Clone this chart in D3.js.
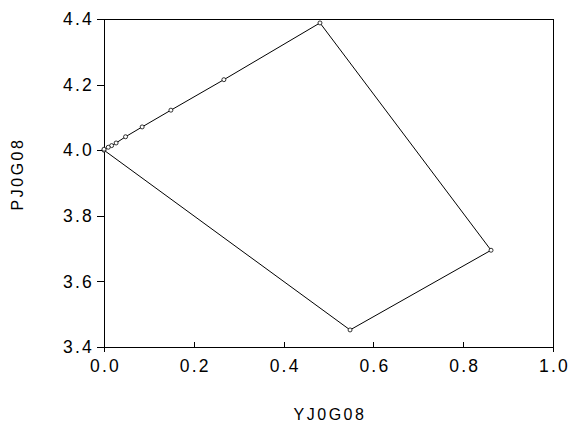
<!DOCTYPE html>
<html>
<head>
<meta charset="utf-8">
<script src="https://cdn.jsdelivr.net/npm/d3@7"></script>
<style>
html,body{margin:0;padding:0;background:#fff;}
svg{display:block;}
text{font-family:"Liberation Sans",Arial,sans-serif;fill:#000;}
</style>
</head>
<body>
<svg id="chart" width="576" height="430"></svg>
<script>
// Data (path order)
const xValues = [0.0, 0.548, 0.862, 0.481, 0.267, 0.149, 0.085, 0.048, 0.027, 0.017, 0.0095, 0.0];
const yValues = [4.0, 3.452, 3.695, 4.388, 4.215, 4.122, 4.071, 4.041, 4.022, 4.014, 4.009, 4.003];
const xTicks = [0.0, 0.2, 0.4, 0.6, 0.8, 1.0];
const yTicks = [3.4, 3.6, 3.8, 4.0, 4.2, 4.4];
const xTitle = "YJ0G08";
const yTitle = "PJ0G08";

(function () {
const svg = d3.select("#chart");
const mL = 104, mR = 553, mT = 19, mB = 347;
const x = d3.scaleLinear().domain([0, 1]).range([mL, mR]);
const y = d3.scaleLinear().domain([3.4, 4.4]).range([mB, mT]);

// Frame
svg.append("rect").attr("x", mL).attr("y", mT).attr("width", mR - mL).attr("height", mB - mT)
  .attr("fill", "none").attr("stroke", "#000").attr("stroke-width", 1).attr("shape-rendering", "crispEdges");

// Y axis (outer ticks, left)
const yAxis = d3.axisLeft(y).tickValues(yTicks).tickFormat(d3.format(".1f")).tickSize(7).tickPadding(3);
const gy = svg.append("g").attr("transform", `translate(${mL},0)`).call(yAxis);
gy.select(".domain").remove();
gy.selectAll("line").attr("stroke", "#000").attr("shape-rendering", "crispEdges");
gy.selectAll("text").attr("font-size", 17.5).attr("letter-spacing", 2.2).attr("font-family", "Liberation Sans, Arial, sans-serif");

// X axis (inner ticks)
const xAxis = d3.axisBottom(x).tickValues(xTicks).tickFormat(d3.format(".1f")).tickSize(-5).tickPadding(13);
const gx = svg.append("g").attr("transform", `translate(0,${mB})`).call(xAxis);
gx.select(".domain").remove();
gx.selectAll("line").attr("stroke", "#000").attr("shape-rendering", "crispEdges");
gx.selectAll("text").attr("font-size", 17.5).attr("letter-spacing", 2.2).attr("dx", 1).attr("font-family", "Liberation Sans, Arial, sans-serif");
gx.selectAll(".tick").filter(d => d === 0 || d === 1).append("line")
  .attr("y1", 0).attr("y2", 5).attr("stroke", "#000").attr("shape-rendering", "crispEdges");

// Titles
svg.append("text").attr("x", 330).attr("y", 420).attr("text-anchor", "middle")
  .attr("font-size", 16).attr("letter-spacing", 2.5).text(xTitle);
svg.append("text").attr("transform", `translate(23,174) rotate(-90)`).attr("text-anchor", "middle")
  .attr("font-size", 16).attr("letter-spacing", 2.5).text(yTitle);

// Path
const pts = xValues.map((v, i) => [v, yValues[i]]);
svg.append("path").datum(pts)
  .attr("d", d3.line().x(d => x(d[0])).y(d => y(d[1])))
  .attr("fill", "none").attr("stroke", "#000").attr("stroke-width", 1);

svg.selectAll("circle.pt").data(pts).enter().append("circle").attr("class", "pt")
  .attr("cx", d => x(d[0])).attr("cy", d => y(d[1])).attr("r", 2)
  .attr("fill", "#fff").attr("stroke", "#000").attr("stroke-width", 0.8);
})();
</script>
</body>
</html>
